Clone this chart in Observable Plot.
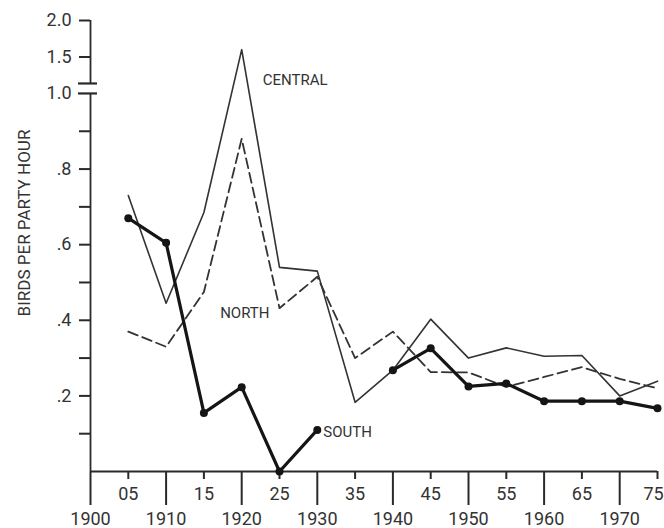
<!DOCTYPE html>
<html>
<head>
<meta charset="utf-8">
<script src="https://cdn.jsdelivr.net/npm/d3@7"></script>
<script src="https://cdn.jsdelivr.net/npm/@observablehq/plot@0.6"></script>
<style>
  html, body { margin: 0; padding: 0; background: #fff; }
  #chart svg { display: block; }
</style>
</head>
<body>
<div id="chart"></div>
<script>
// Christmas count survey years and birds per party hour by region
const years   = [1905, 1910, 1915, 1920, 1925, 1930, 1935, 1940, 1945, 1950, 1955, 1960, 1965, 1970, 1975];
const central = [0.73, 0.445, 0.685, 1.6, 0.54, 0.53, 0.183, 0.268, 0.403, 0.30, 0.327, 0.305, 0.307, 0.20, 0.239];
const north   = [0.37, 0.33, 0.475, 0.88, 0.432, 0.515, 0.30, 0.37, 0.263, 0.262, 0.224, 0.25, 0.276, 0.245, 0.22];
const south   = [0.67, 0.605, 0.155, 0.223, 0, 0.11, NaN, 0.268, 0.326, 0.225, 0.233, 0.186, 0.186, 0.186, 0.167];

// axis ticks and labels
const decadeTicks  = [1900, 1910, 1920, 1930, 1940, 1950, 1960, 1970];
const decadeLabels = ["1900", "1910", "1920", "1930", "1940", "1950", "1960", "1970"];
const halfTicks    = [1905, 1915, 1925, 1935, 1945, 1955, 1965, 1975];
const halfLabels   = ["05", "15", "25", "35", "45", "55", "65", "75"];
const yTicks       = [0.1, 0.2, 0.3, 0.4, 0.5, 0.6, 0.7, 0.8, 0.9, 1.5, 2.0];
const yLabelValues = [2.0, 1.5, 1.0, 0.8, 0.6, 0.4, 0.2];
const yLabelText   = ["2.0", "1.5", "1.0", ".8", ".6", ".4", ".2"];
const seriesNames  = ["CENTRAL", "NORTH", "SOUTH"];

const rows = years.map((year, i) => ({year, central: central[i], north: north[i], south: south[i]}));

// the y axis is compressed above 1.0, and broken just above that value
const upperRatio = 0.193;
const compress = v => (v <= 1 ? v : 1 + (v - 1) * upperRatio);
const axisBreak = 1.137;
const ink = "#2a2a2a";
const font = "Roboto, 'DejaVu Sans', sans-serif";

// series name placed beside one of its points
const seriesLabel = (name, values, year, options) => {
  const i = years.indexOf(year);
  return Plot.text([{year, v: values[i], name}], {
    x: "year", y: "v", text: "name",
    fontSize: 15, fill: "#333", style: "letter-spacing:1.2px", ...options
  });
};

const chart = Plot.plot({
  width: 664,
  height: 528,
  marginTop: 20,
  marginRight: 7,
  marginBottom: 57,
  marginLeft: 90,
  x: {domain: [1900, 1975], range: [90, 657], axis: null},
  y: {transform: compress, domain: [0, compress(2)], range: [471, 20], axis: null},
  style: {background: "#fff", fontFamily: font, color: ink, overflow: "visible"},
  marks: [
    // y axis, broken between 1.0 and the upper segment
    Plot.ruleX([1900], {y1: 0, y2: 1, stroke: ink, strokeWidth: 1.8}),
    Plot.ruleX([1900], {y1: axisBreak, y2: 2, stroke: ink, strokeWidth: 1.8}),
    Plot.ruleY([1, axisBreak], {x1: 1900, x2: 1900, insetLeft: -12, insetRight: -7, stroke: ink, strokeWidth: 2.2}),
    Plot.ruleY(yTicks, {x1: 1900, x2: 1900, insetLeft: -11, stroke: ink, strokeWidth: 2}),
    Plot.text(yLabelValues, {
      x: 1900, y: d => d, text: (d, i) => yLabelText[i],
      textAnchor: "end", dx: -19, fontSize: 18, fill: "#333"
    }),
    Plot.text(["BIRDS PER PARTY HOUR"], {
      frameAnchor: "left", textAnchor: "middle", dx: -66, dy: -23, rotate: -90,
      fontSize: 17, fill: "#333", style: "letter-spacing:2.2px"
    }),

    // x axis with long decade ticks and short half-decade ticks
    Plot.ruleY([0], {x1: 1900, x2: 1975, stroke: ink, strokeWidth: 1.8}),
    Plot.ruleX(decadeTicks, {y1: 0, y2: 0, insetBottom: -34, stroke: ink, strokeWidth: 2}),
    Plot.ruleX(halfTicks, {y1: 0, y2: 0, insetBottom: -8, stroke: ink, strokeWidth: 2}),
    Plot.text(halfTicks.slice(0, -1), {x: d => d, y: 0, text: (d, i) => halfLabels[i], dy: 23, fontSize: 18, fill: "#333"}),
    Plot.text(halfTicks.slice(-1), {x: d => d, y: 0, text: halfLabels.slice(-1), dx: -4, dy: 23, fontSize: 18, fill: "#333"}),
    Plot.text(decadeTicks, {x: d => d, y: 0, text: (d, i) => decadeLabels[i], dy: 48, fontSize: 18, fill: "#333"}),

    // regional series
    Plot.line(rows, {x: "year", y: "central", stroke: "#333", strokeWidth: 1.6}),
    Plot.line(rows, {x: "year", y: "north", stroke: "#333", strokeWidth: 1.8, strokeDasharray: "10,5"}),
    Plot.line(rows, {x: "year", y: "south", stroke: "#151515", strokeWidth: 3.2}),
    Plot.dot(rows, {x: "year", y: "south", r: 4, fill: "#151515", stroke: "none"}),

    seriesLabel(seriesNames[0], central, 1920, {textAnchor: "start", dx: 21, dy: 31}),
    seriesLabel(seriesNames[1], north, 1925, {textAnchor: "end", dx: -10, dy: 5}),
    seriesLabel(seriesNames[2], south, 1930, {textAnchor: "start", dx: 6, dy: 2})
  ]
});

document.getElementById("chart").append(chart);
</script>
</body>
</html>
